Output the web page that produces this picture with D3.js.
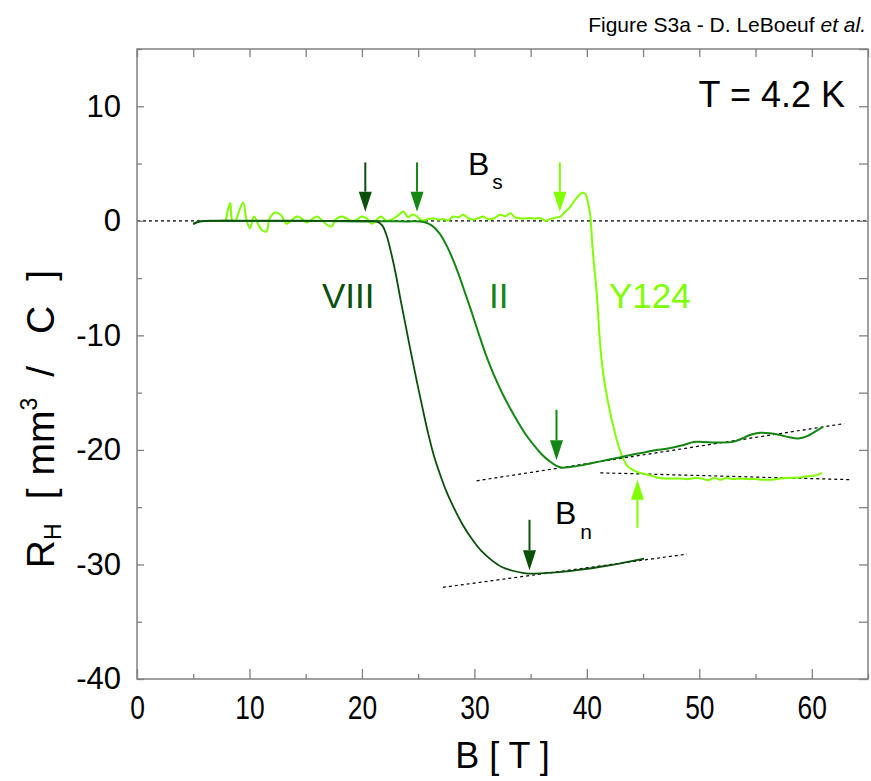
<!DOCTYPE html>
<html>
<head>
<meta charset="utf-8">
<script src="https://cdn.jsdelivr.net/npm/d3@7/dist/d3.min.js"></script>
<style>
body { margin: 0; background: #fff; }
text { font-family: "Liberation Sans", Arial, sans-serif; }
</style>
</head>
<body>
<svg id="chart" width="871" height="781"></svg>
<script>
// R_H(B) curves
var viiiB = [5.0, 5.6, 7, 10, 14, 18, 20, 21.0, 21.3, 21.8, 22.2, 22.6, 23.0, 23.4, 23.9, 24.4, 24.9, 25.4, 25.9, 26.4, 26.9, 27.5, 28.2, 29.0, 29.8, 30.6, 31.5, 32.4, 33.4, 34.4, 35.2, 36.2, 37.2, 38.2, 39.5, 41.2, 43.0, 45.1];
var viiiR = [-0.3, -0.05, 0, 0, 0, 0, 0, -0.02, -0.05, -0.4, -1.3, -2.8, -4.6, -6.7, -9.2, -11.7, -14.1, -16.4, -18.6, -20.5, -22.0, -23.6, -25.1, -26.6, -27.8, -28.8, -29.6, -30.2, -30.55, -30.75, -30.8, -30.75, -30.7, -30.6, -30.45, -30.2, -29.9, -29.5];

var iiB = [5.0, 5.6, 7, 10, 15, 20, 24, 25.5, 26.2, 26.9, 27.6, 28.3, 29.0, 29.7, 30.4, 31.1, 31.8, 32.5, 33.2, 33.9, 34.6, 35.3, 36.0, 36.7, 37.3, 37.8, 38.5, 39.5, 41.2, 42.2, 43.2, 44.1, 45.2, 46.2, 47.1, 48.5, 49.5, 50.3, 51.5, 53.0, 53.8, 54.5, 55.4, 56.3, 57.2, 58.0, 58.8, 59.6, 60.3, 61.0];
var iiR = [-0.25, -0.05, 0, 0, 0, -0.05, -0.05, -0.1, -0.4, -1.1, -2.3, -3.9, -5.8, -7.8, -9.9, -11.9, -13.6, -15.1, -16.4, -17.6, -18.7, -19.6, -20.4, -21.0, -21.4, -21.55, -21.5, -21.35, -21.0, -20.8, -20.6, -20.4, -20.2, -20.0, -19.9, -19.6, -19.3, -19.3, -19.35, -19.3, -19.0, -18.7, -18.5, -18.55, -18.7, -18.9, -19.0, -18.8, -18.4, -18.0];

var y124B = [7.9, 8.1, 8.3, 8.45, 8.7, 9.0, 9.25, 9.45, 9.75, 10.05, 10.4, 10.8, 11.1, 11.5, 11.8, 12.3, 12.8, 13.3, 13.7, 14.2, 14.6, 15.1, 15.5, 16.0, 16.4, 16.9, 17.3, 17.7, 18.2, 18.6, 19.1, 19.5, 20.0, 20.4, 20.9, 21.3, 21.7, 22.2, 22.6, 23.1, 23.7, 24.1, 24.5, 24.9, 25.3, 25.7, 26.3, 26.8, 27.2, 27.7, 28.1, 28.6, 29.0, 29.5, 29.9, 30.4, 30.8, 31.2, 31.7, 32.3, 32.8, 33.2, 33.6, 34.0, 34.5, 34.9, 35.4, 35.8, 36.1, 36.4, 36.7, 37.0, 37.3, 37.6, 38.0, 38.5, 39.1, 39.6, 39.9, 40.1, 40.3, 40.5, 40.9, 41.2, 41.6, 42.2, 42.9, 43.6, 44.4, 45.6, 46.2, 47.2, 48.3, 49.0, 49.6, 50.2, 50.8, 51.3, 51.9, 52.4, 53.0, 53.6, 54.3, 55.0, 55.6, 56.5, 57.2, 58.0, 58.9, 59.6, 60.4, 60.9];
var y124R = [0, 1.0, 1.55, 0.1, -0.05, 0.6, 1.3, 1.6, 0, -0.65, 0.38, -0.35, -0.8, -0.95, 0.23, 0.73, 0.5, -0.26, 0, 0.38, 0.23, -0.15, 0.09, 0.38, 0.09, -0.35, -0.5, 0.15, 0.38, 0.23, 0, 0.09, 0.38, 0.23, -0.26, 0.09, 0.38, 0, 0.1, 0.38, 0.82, 0.3, 0.55, 0.38, 0.05, 0.09, 0.23, 0.1, 0.15, 0.05, 0.38, 0.3, 0.52, 0.2, 0.1, 0.25, 0.38, 0.15, 0.2, 0.52, 0.4, 0.67, 0.3, 0.23, 0.2, 0.25, 0.2, 0.25, 0.1, 0, 0.15, 0.23, 0.3, 0.35, 0.7, 1.2, 2.0, 2.45, 2.3, 1.6, 0.5, -2.3, -6.6, -11.0, -14.3, -17.3, -19.9, -21.4, -21.9, -22.2, -22.4, -22.5, -22.5, -22.55, -22.45, -22.5, -22.65, -22.45, -22.6, -22.45, -22.55, -22.5, -22.55, -22.55, -22.6, -22.6, -22.5, -22.45, -22.4, -22.3, -22.2, -22.0];

// dotted linear fits in the normal state: [B0, R0, B1, R1]
var fitVIII = [27.2, -32.0, 48.9, -29.1];
var fitII = [30.2, -22.7, 62.9, -17.7];
var fitY124 = [41.2, -22.0, 63.6, -22.6];

// arrow positions: field, tail, tip
var bsArrowB = [20.3, 24.9, 37.6];
var bsArrowR = [5.1, 0.8];
var bnArrowB = [37.3, 34.9, 44.5];
var bnArrowTail = [-16.5, -26.1, -26.8];
var bnArrowTip = [-20.9, -30.5, -22.6];

var xMajor = [0, 10, 20, 30, 40, 50, 60];
var xMinor = [5, 15, 25, 35, 45, 55, 65];
var yMajor = [-40, -30, -20, -10, 0, 10];
var yMinor = [-35, -25, -15, -5, 5, 15];

var cDark = "#0a4f0a", cMid = "#148614", cLime = "#80ff00";

var width = 871, height = 781;
var margin = {top: 49, right: 3, bottom: 102, left: 137};

var svg = d3.select("#chart");

var x = d3.scaleLinear().domain([0, 65]).range([margin.left, width - margin.right]);
var y = d3.scaleLinear().domain([-40, 15]).range([height - margin.bottom, margin.top]);

function zip(b, r) {
    return b.map(function (d, i) { return [d, r[i]]; });
}

var line = d3.line()
    .x(function (d) { return x(d[0]); })
    .y(function (d) { return y(d[1]); })
    .curve(d3.curveCatmullRom.alpha(0.5));

// zero line + fits
svg.append("line")
    .attr("x1", x(0)).attr("x2", x(65))
    .attr("y1", y(0)).attr("y2", y(0))
    .attr("stroke", "#000").attr("stroke-width", 1.2)
    .attr("stroke-dasharray", "3,3");

[fitVIII, fitII, fitY124].forEach(function (f) {
    svg.append("line")
        .attr("x1", x(f[0])).attr("y1", y(f[1]))
        .attr("x2", x(f[2])).attr("y2", y(f[3]))
        .attr("stroke", "#000").attr("stroke-width", 1.2)
        .attr("stroke-dasharray", "3,3");
});

// curves
svg.append("path").datum(zip(y124B, y124R))
    .attr("d", line).attr("fill", "none")
    .attr("stroke", cLime).attr("stroke-width", 2);
svg.append("path").datum(zip(iiB, iiR))
    .attr("d", line).attr("fill", "none")
    .attr("stroke", cMid).attr("stroke-width", 2);
svg.append("path").datum(zip(viiiB, viiiR))
    .attr("d", line).attr("fill", "none")
    .attr("stroke", cDark).attr("stroke-width", 1.8);

// arrows
function arrow(b, rTail, rTip, color) {
    var px = x(b), y0 = y(rTail), y1 = y(rTip);
    var dir = y1 > y0 ? 1 : -1;
    var headLen = 20, headW = 6.5;
    svg.append("line")
        .attr("x1", px).attr("x2", px)
        .attr("y1", y0).attr("y2", y1 - dir * headLen)
        .attr("stroke", color).attr("stroke-width", 2);
    svg.append("path")
        .attr("d", "M" + (px - headW) + "," + (y1 - dir * headLen) +
            "L" + (px + headW) + "," + (y1 - dir * headLen) +
            "L" + px + "," + y1 + "Z")
        .attr("fill", color);
}

var bsColors = [cDark, cMid, cLime];
bsArrowB.forEach(function (b, i) { arrow(b, bsArrowR[0], bsArrowR[1], bsColors[i]); });
var bnColors = [cMid, cDark, cLime];
bnArrowB.forEach(function (b, i) { arrow(b, bnArrowTail[i], bnArrowTip[i], bnColors[i]); });

// frame
svg.append("rect")
    .attr("x", x(0)).attr("y", y(15))
    .attr("width", x(65) - x(0)).attr("height", y(-40) - y(15))
    .attr("fill", "none").attr("stroke", "#808080").attr("stroke-width", 1.5);

function styleAxis(g) {
    g.select(".domain").remove();
    g.selectAll(".tick line").attr("stroke", "#808080").attr("stroke-width", 1.3);
    g.selectAll(".tick text").attr("fill", "#000");
}

var plain = function (d) { return String(d); };

svg.append("g")
    .attr("transform", "translate(0," + y(-40) + ")")
    .call(d3.axisBottom(x).tickValues(xMajor).tickSize(-10).tickPadding(17).tickFormat(plain))
    .call(styleAxis)
    .selectAll("text")
    .attr("font-size", 33).attr("font-family", "Liberation Sans")
    .attr("transform", "scale(0.8,1)");
svg.append("g")
    .attr("transform", "translate(0," + y(-40) + ")")
    .call(d3.axisBottom(x).tickValues(xMinor).tickSize(-5).tickFormat(""))
    .call(styleAxis);
svg.append("g")
    .attr("transform", "translate(0," + y(15) + ")")
    .call(d3.axisTop(x).tickValues(xMajor.concat(xMinor)).tickSize(-8).tickFormat(""))
    .call(styleAxis);
svg.append("g")
    .attr("transform", "translate(" + x(0) + ",0)")
    .call(d3.axisLeft(y).tickValues(yMajor).tickSize(-7).tickPadding(16).tickFormat(plain))
    .call(styleAxis)
    .selectAll("text").attr("font-size", 31).attr("font-family", "Liberation Sans");
svg.append("g")
    .attr("transform", "translate(" + x(0) + ",0)")
    .call(d3.axisLeft(y).tickValues(yMinor).tickSize(-5).tickFormat(""))
    .call(styleAxis);
svg.append("g")
    .attr("transform", "translate(" + x(65) + ",0)")
    .call(d3.axisRight(y).tickValues(yMajor.concat(yMinor)).tickSize(-9).tickFormat(""))
    .call(styleAxis);

// axis titles
svg.append("text")
    .attr("x", (x(0) + x(65)) / 2).attr("y", 768)
    .attr("text-anchor", "middle").attr("font-size", 36)
    .text("B [ T ]");

var yt = svg.append("text")
    .attr("transform", "translate(54,419) rotate(-90)")
    .attr("text-anchor", "middle").attr("font-size", 39);
yt.append("tspan").text("R");
yt.append("tspan").attr("font-size", 23).attr("dy", 7).text("H");
yt.append("tspan").attr("dx", 24).attr("dy", -7).text("[");
yt.append("tspan").attr("dx", 13).text("mm");
yt.append("tspan").attr("font-size", 23).attr("dy", -17).text("3");
yt.append("tspan").attr("dx", 21).attr("dy", 17).text("/");
yt.append("tspan").attr("dx", 32).text("C");
yt.append("tspan").attr("dx", 25).text("]");

// header
var hdr = svg.append("text")
    .attr("x", 866).attr("y", 32)
    .attr("text-anchor", "end").attr("font-size", 21);
hdr.append("tspan").text("Figure S3a - D. LeBoeuf ");
hdr.append("tspan").attr("font-style", "italic").text("et al.");

svg.append("text")
    .attr("x", 845).attr("y", 107)
    .attr("text-anchor", "end").attr("font-size", 36)
    .text("T = 4.2 K");

// sample labels
svg.append("text").attr("x", 322).attr("y", 308)
    .attr("font-size", 35).attr("fill", cDark).text("VIII");
svg.append("text").attr("x", 489).attr("y", 308)
    .attr("font-size", 35).attr("fill", cMid).text("II");
svg.append("text").attr("x", 609).attr("y", 308)
    .attr("font-size", 35).attr("fill", cLime).text("Y124");

// B_s and B_n
var bs = svg.append("text").attr("x", 468).attr("y", 175).attr("font-size", 32);
bs.append("tspan").text("B");
bs.append("tspan").attr("font-size", 21).attr("dx", 3).attr("dy", 14).text("s");
var bn = svg.append("text").attr("x", 555).attr("y", 524).attr("font-size", 32);
bn.append("tspan").text("B");
bn.append("tspan").attr("font-size", 21).attr("dx", 4).attr("dy", 15).text("n");
</script>
</body>
</html>
